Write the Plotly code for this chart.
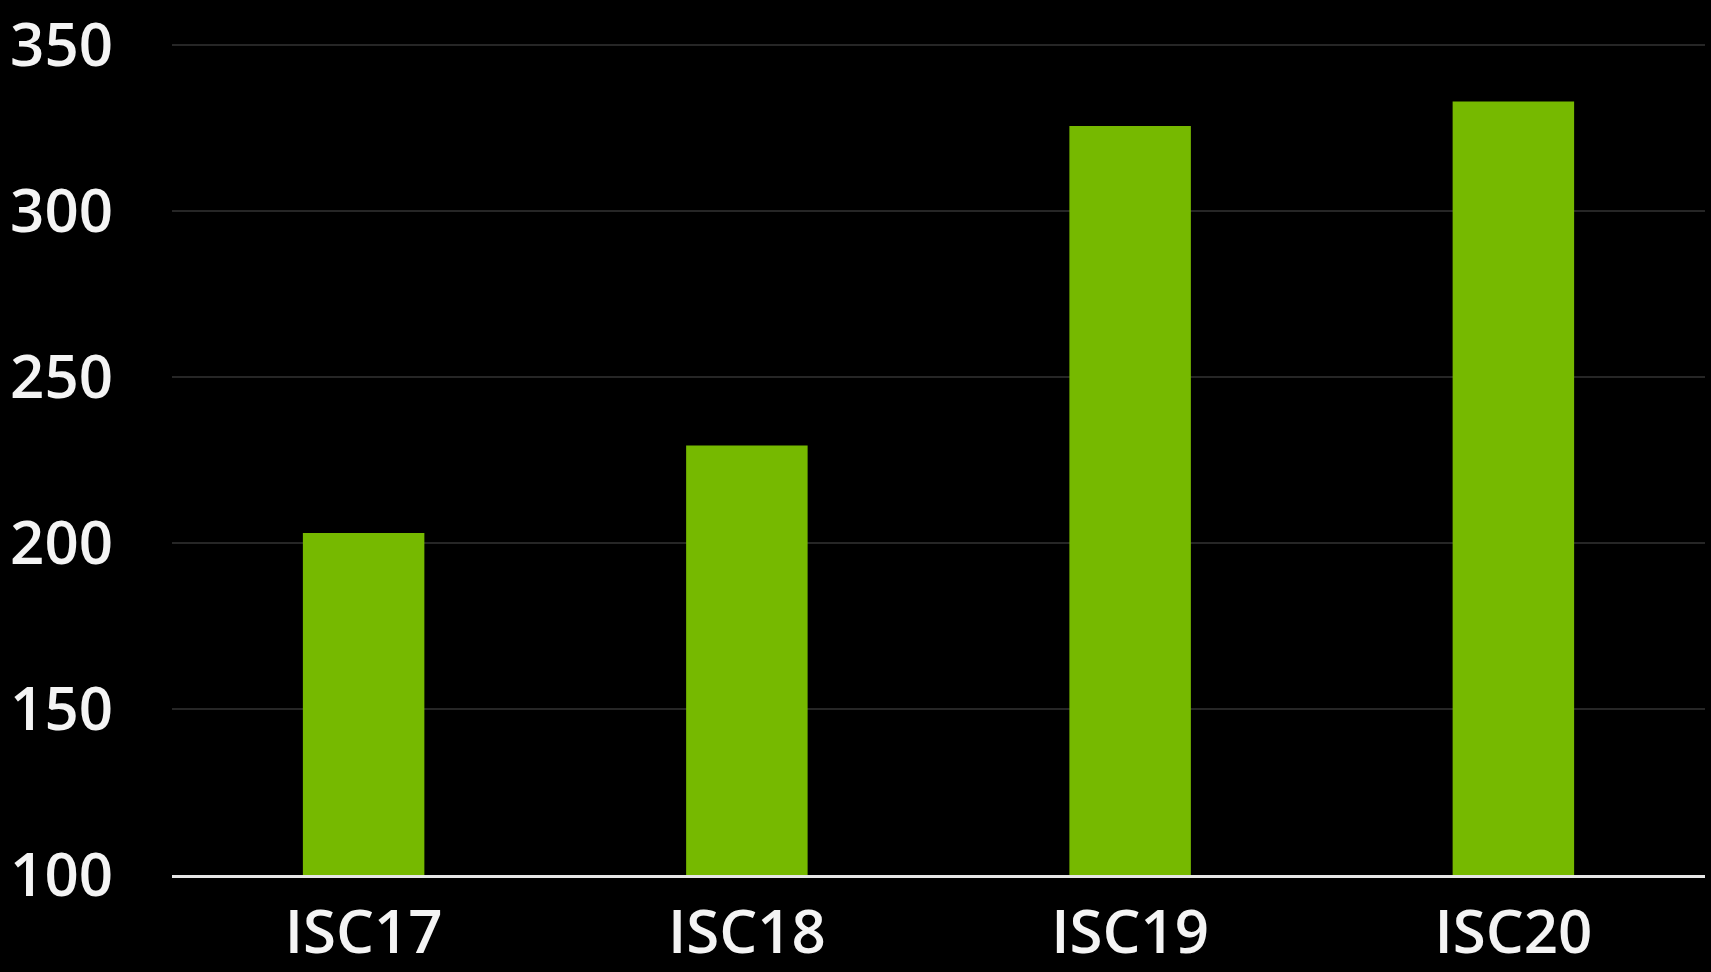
import plotly.graph_objects as go

categories = ["ISC17", "ISC18", "ISC19", "ISC20"]
values = [203, 229.3, 325.5, 332.9]
y_ticks = [100, 150, 200, 250, 300, 350]

fig = go.Figure(
    go.Bar(
        x=categories,
        y=values,
        marker=dict(color="#76B900", line=dict(width=0)),
        width=0.317,
        hoverinfo="x+y",
    )
)

font_family = "Open Sans, sans-serif"
label_font = dict(family=font_family, size=60, color="#f4f4f4", weight=600)

fig.update_layout(
    width=1711,
    height=972,
    paper_bgcolor="#000000",
    plot_bgcolor="#000000",
    margin=dict(l=172, r=6, t=38, b=97, autoexpand=False),
    showlegend=False,
    font=dict(family=font_family, color="#f4f4f4", size=60),
)

fig.update_xaxes(
    type="category",
    range=[-0.5, 3.5],
    automargin=False,
    showgrid=False,
    showline=True,
    linecolor="#e6e6e6",
    linewidth=3,
    ticks="",
    ticklabelstandoff=3,
    tickfont=label_font,
    fixedrange=True,
)

fig.update_yaxes(
    range=[100, 352],
    automargin=False,
    tickvals=y_ticks,
    ticktext=[str(v) for v in y_ticks],
    showgrid=True,
    gridcolor="#262626",
    gridwidth=2,
    zeroline=False,
    showline=False,
    ticks="",
    ticklabelstandoff=58,
    ticklabeloverflow="allow",
    tickfont=label_font,
    fixedrange=True,
)

fig.write_html(
    "out.html",
    config={"displayModeBar": False},
    post_script="document.body.style.margin='0';document.body.style.background='#000';",
)
